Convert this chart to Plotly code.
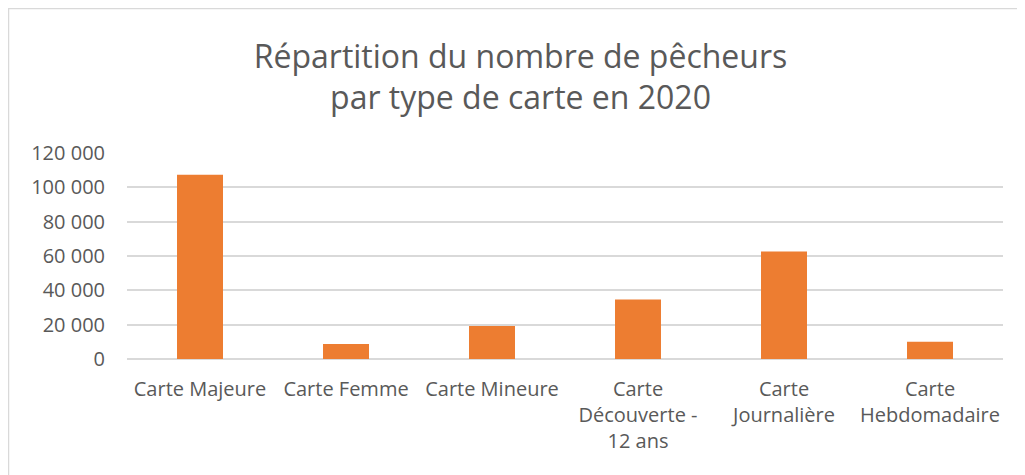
import plotly.graph_objects as go

categories = ["Carte Majeure", "Carte Femme", "Carte Mineure",
              "Carte<br>Découverte -<br>12 ans", "Carte<br>Journalière", "Carte<br>Hebdomadaire"]
values = [107300, 8700, 19200, 34600, 62600, 10100]
tick_vals = [0, 20000, 40000, 60000, 80000, 100000, 120000]
tick_text = ["0", "20 000", "40 000", "60 000", "80 000", "100 000", "120 000"]

FONT = "Open Sans"
GRAY = "#595959"

fig = go.Figure(go.Bar(x=categories, y=values, marker=dict(color="#ED7D31", line=dict(width=0)),
                       width=0.315))

fig.update_layout(
    width=1025, height=475,
    margin=dict(l=119, r=30, t=145, b=124),
    paper_bgcolor="white", plot_bgcolor="white",
    font=dict(family=FONT, color=GRAY, size=20),
    title=dict(text="Répartition du nombre de pêcheurs<br>par type de carte en 2020",
               x=0.5, xanchor="center", xref="container",
               y=0.874, yanchor="middle", yref="container",
               font=dict(family=FONT, size=32, color=GRAY)),
    showlegend=False,
    xaxis=dict(showgrid=False, showline=False, ticks="", ticklabelstandoff=16,
               tickfont=dict(size=20, color=GRAY)),
    yaxis=dict(range=[0, 120000], tickvals=tick_vals, ticktext=tick_text,
               showgrid=True, gridcolor="#D9D9D9", gridwidth=1.8,
               zeroline=True, zerolinecolor="#D9D9D9", zerolinewidth=1.8,
               showline=False, ticks="", ticklabelstandoff=21,
               tickfont=dict(size=20, color=GRAY)),
    shapes=[dict(type="rect", xref="paper", yref="paper",
                 x0=(0.5 - 119) / 876, x1=1.3, y0=-1.0, y1=(351 - 0.5) / 206,
                 line=dict(color="#D9D9D9", width=1.5), fillcolor="rgba(0,0,0,0)", layer="below")],
)

fig.write_html("out.html")
